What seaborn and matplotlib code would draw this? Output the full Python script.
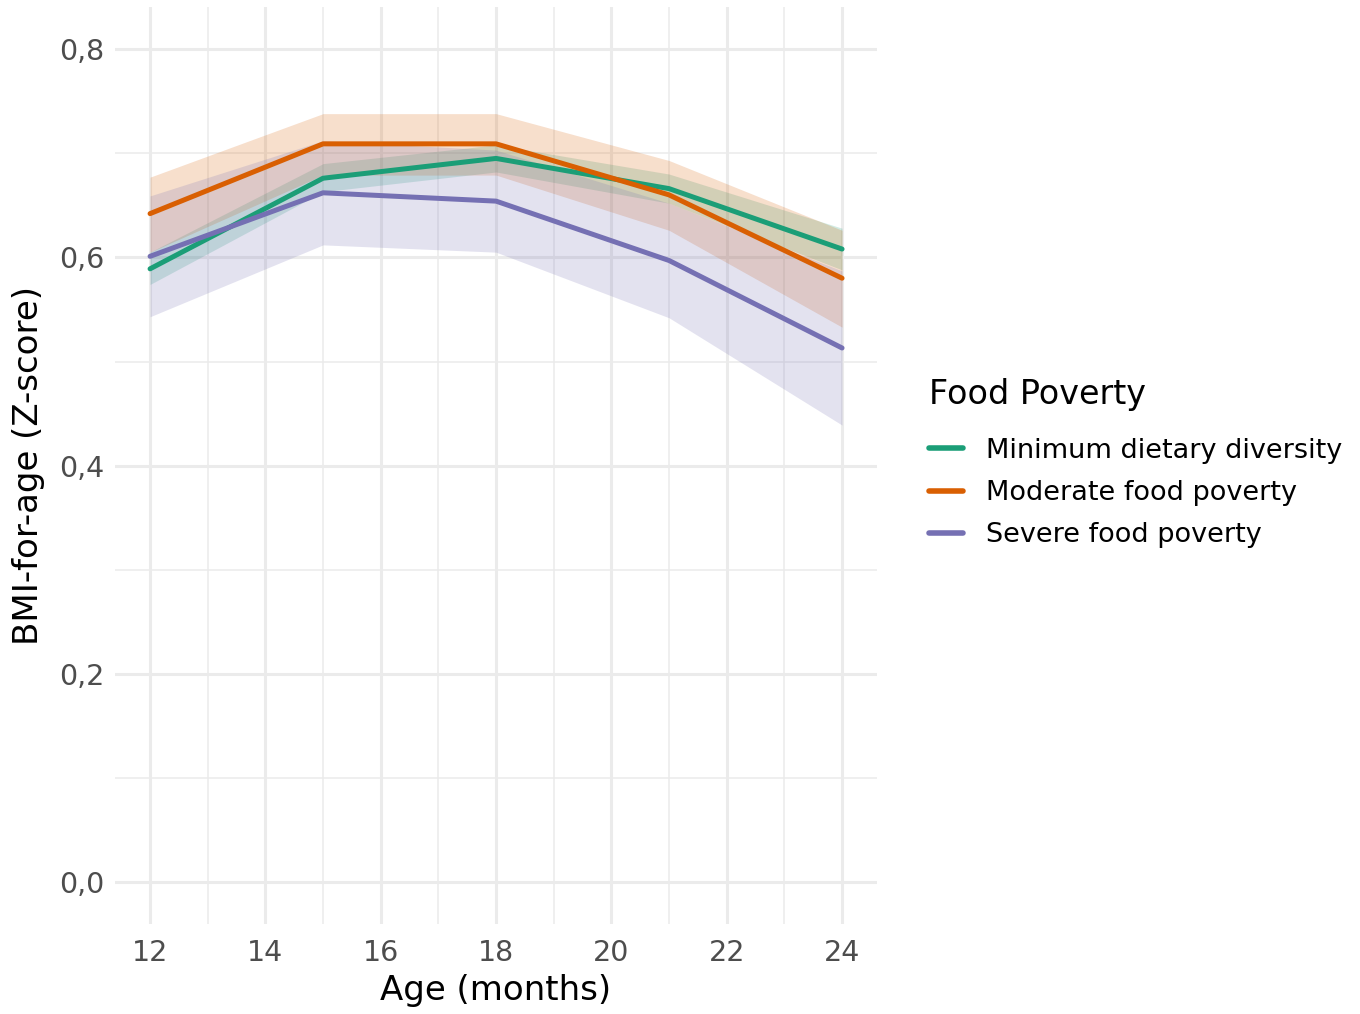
import numpy as np
import pandas as pd
import matplotlib
matplotlib.use("Agg")
import matplotlib.pyplot as plt
from matplotlib.lines import Line2D
import seaborn as sns

# Age in months at each visit
age = [12, 15, 18, 21, 24]

groups = ["Minimum dietary diversity", "Moderate food poverty", "Severe food poverty"]

# Mean BMI-for-age Z-score per group
mdd_mean = [0.589, 0.676, 0.695, 0.666, 0.608]
mod_mean = [0.642, 0.709, 0.709, 0.660, 0.580]
sev_mean = [0.601, 0.662, 0.654, 0.597, 0.513]

# 95% confidence bounds
mdd_lo = [0.574, 0.663, 0.682, 0.652, 0.588]
mdd_hi = [0.605, 0.690, 0.708, 0.680, 0.628]
mod_lo = [0.605, 0.679, 0.679, 0.626, 0.533]
mod_hi = [0.677, 0.738, 0.738, 0.693, 0.626]
sev_lo = [0.543, 0.612, 0.605, 0.542, 0.439]
sev_hi = [0.659, 0.712, 0.703, 0.652, 0.587]

colors = ["#1B9E77", "#D95F02", "#7570B3"]

means = [mdd_mean, mod_mean, sev_mean]
lows = [mdd_lo, mod_lo, sev_lo]
highs = [mdd_hi, mod_hi, sev_hi]

df = pd.concat(
    [pd.DataFrame({"age": age, "z": m, "lo": lo, "hi": hi, "group": g})
     for g, m, lo, hi in zip(groups, means, lows, highs)],
    ignore_index=True,
)

sns.set_theme(style="whitegrid")
plt.rcParams["font.family"] = ["DejaVu Sans"]

fig = plt.figure(figsize=(13.6, 10.14), dpi=100)
ax = fig.add_axes([0.0849, 0.0888, 0.5597, 0.9039])

# Confidence ribbons
for g, c in zip(groups, colors):
    sub = df[df["group"] == g]
    ax.fill_between(sub["age"], sub["lo"], sub["hi"], color=c, alpha=0.2,
                    linewidth=0, zorder=2)

sns.lineplot(data=df, x="age", y="z", hue="group", palette=colors,
             hue_order=groups, linewidth=3.6, errorbar=None, legend=False,
             ax=ax, zorder=3)

ax.set_xlim(11.4, 24.6)
ax.set_ylim(-0.04, 0.84)
ax.set_xticks([12, 14, 16, 18, 20, 22, 24])
ax.set_xticks(np.arange(13, 24, 2), minor=True)
ax.set_yticks([0.0, 0.2, 0.4, 0.6, 0.8])
ax.set_yticks([0.1, 0.3, 0.5, 0.7], minor=True)
ax.set_yticklabels(["0,0", "0,2", "0,4", "0,6", "0,8"])

ax.grid(which="major", color="#EBEBEB", linewidth=2.2)
ax.grid(which="minor", color="#EBEBEB", linewidth=1.1)
ax.set_axisbelow(True)
for s in ax.spines.values():
    s.set_visible(False)
ax.set_facecolor("white")

ax.tick_params(axis="both", which="both", length=0, labelsize=20.5,
               labelcolor="#4D4D4D")
ax.tick_params(axis="x", pad=11)
ax.tick_params(axis="y", pad=8)
ax.set_xlabel("Age (months)", fontsize=24.5, color="black", labelpad=5)
ax.set_ylabel("BMI-for-age (Z-score)", fontsize=24.5, color="black", labelpad=10)

handles = [Line2D([0], [0], color=c, linewidth=4) for c in colors]
leg = fig.legend(handles, groups, title="Food Poverty", loc="center left",
                 bbox_to_anchor=(0.665, 0.543), frameon=False, fontsize=19.5,
                 title_fontsize=24, handlelength=1.25, handletextpad=0.85,
                 labelspacing=0.6, labelcolor="black")
leg.get_title().set_color("black")
leg._legend_box.align = "left"
leg._legend_box.sep = 19

fig.savefig("out.png", dpi=100, facecolor="white")
